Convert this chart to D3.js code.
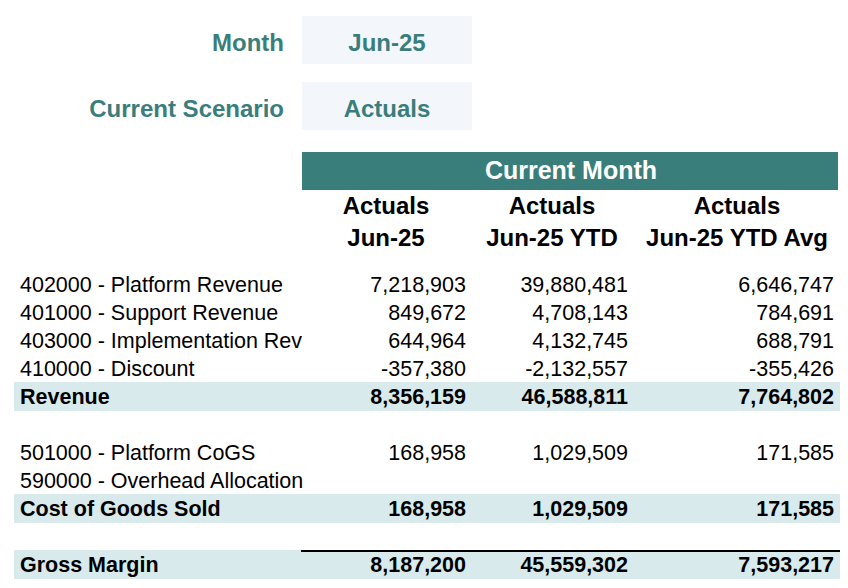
<!DOCTYPE html>
<html><head><meta charset="utf-8">
<script src="https://cdn.jsdelivr.net/npm/d3@7"></script>
<style>body{margin:0;background:#fff}svg{display:block;font-family:"Liberation Sans",Arial,Helvetica,sans-serif}</style>
</head><body><svg id="c" width="848" height="588"></svg>
<script>
// ---- data ----
const selectorLabels = ["Month", "Current Scenario"];
const selectorValues = ["Jun-25", "Actuals"];
const groupTitle = "Current Month";
const columnScenario = ["Actuals", "Actuals", "Actuals"];
const columnPeriods = ["Jun-25", "Jun-25 YTD", "Jun-25 YTD Avg"];
const rowLabels = [
  "402000 - Platform Revenue", "401000 - Support Revenue", "403000 - Implementation Rev",
  "410000 - Discount", "Revenue", "", "501000 - Platform CoGS", "590000 - Overhead Allocation",
  "Cost of Goods Sold", "", "Gross Margin"];
const rowTypes = ["line","line","line","line","total","blank","line","line","total","blank","grand"];
const valuesMonth  = [7218903, 849672, 644964, -357380, 8356159, null, 168958, null, 168958, null, 8187200];
const valuesYTD    = [39880481, 4708143, 4132745, -2132557, 46588811, null, 1029509, null, 1029509, null, 45559302];
const valuesYTDAvg = [6646747, 784691, 688791, -355426, 7764802, null, 171585, null, 171585, null, 7593217];
const series = [valuesMonth, valuesYTD, valuesYTDAvg];

// ---- drawing ----
const svg = d3.select("#c");
const teal = "#3a7e7c";
const fmt = d3.format(",");

// selectors
const selY = d3.scaleLinear().domain([0, 1]).range([40, 106]);
selectorLabels.forEach((lab, i) => {
  svg.append("rect").attr("x", 302).attr("y", selY(i) - 24).attr("width", 170).attr("height", 48).attr("fill", "#f3f7fb");
  svg.append("text").attr("x", 284).attr("y", selY(i) + 11).attr("text-anchor", "end")
    .attr("font-size", 24).attr("font-weight", "bold").attr("fill", teal).text(lab);
  svg.append("text").attr("x", 387).attr("y", selY(i) + 11).attr("text-anchor", "middle")
    .attr("font-size", 24).attr("font-weight", "bold").attr("fill", teal).text(selectorValues[i]);
});

// group header
svg.append("rect").attr("x", 302).attr("y", 152).attr("width", 536).attr("height", 38).attr("fill", teal);
svg.append("text").attr("x", 571).attr("y", 179).attr("text-anchor", "middle")
  .attr("font-size", 25).attr("font-weight", "bold").attr("fill", "#fff").text(groupTitle);

const colIdx = d3.range(columnPeriods.length);
const colRight = d3.scaleOrdinal().domain(colIdx).range([466, 628, 834]);
const colCenter = d3.scaleOrdinal().domain(colIdx).range([386, 552, 737]);

colIdx.forEach(c => {
  svg.append("text").attr("x", colCenter(c)).attr("y", 214).attr("text-anchor", "middle")
    .attr("font-size", 24).attr("font-weight", "bold").attr("fill", "#000").text(columnScenario[c]);
  svg.append("text").attr("x", colCenter(c)).attr("y", 246).attr("text-anchor", "middle")
    .attr("font-size", 24).attr("font-weight", "bold").attr("fill", "#000").text(columnPeriods[c]);
});

// rows
const y = d3.scaleLinear().domain([0, rowLabels.length - 1]).range([284, 284 + 28 * (rowLabels.length - 1)]);
rowLabels.forEach((lab, i) => {
  const t = rowTypes[i];
  if (t === "blank") return;
  const bold = t !== "line";
  if (bold) {
    svg.append("rect").attr("x", 14).attr("y", y(i) - 14).attr("width", 826).attr("height", 29).attr("fill", "#d8eaeb");
  }
  if (t === "grand") {
    svg.append("line").attr("x1", 301).attr("x2", 840).attr("y1", y(i) - 13).attr("y2", y(i) - 13)
      .attr("stroke", "#000").attr("stroke-width", 2);
  }
  svg.append("text").attr("x", 20).attr("y", y(i) + 7.5).attr("font-size", 21.5)
    .attr("font-weight", bold ? "bold" : "normal").attr("fill", "#000").text(lab);
  colIdx.forEach(c => {
    const v = series[c][i];
    if (v === null) return;
    svg.append("text").attr("x", colRight(c)).attr("y", y(i) + 7.5).attr("text-anchor", "end")
      .attr("font-size", 21.5).attr("font-weight", bold ? "bold" : "normal").attr("fill", "#000").text(fmt(v).replace("−", "-"));
  });
});
</script></body></html>
